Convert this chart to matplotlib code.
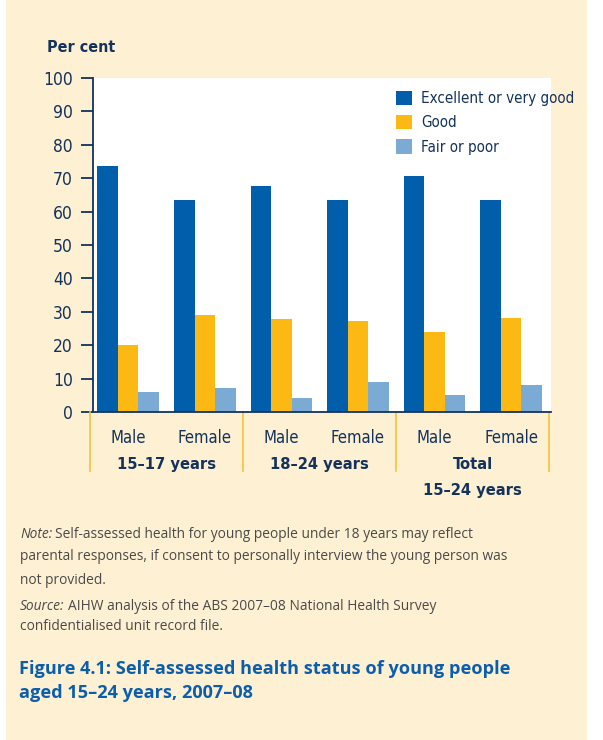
import numpy as np
import matplotlib.pyplot as plt
from matplotlib.patches import Rectangle

plt.close('all')

# data
sexes = ['Male', 'Female', 'Male', 'Female', 'Male', 'Female']
groups = ['15–17 years', '18–24 years', 'Total\n15–24 years']
series = ['Excellent or very good', 'Good', 'Fair or poor']
excellent = [73.7, 63.5, 67.7, 63.5, 70.7, 63.5]
good = [20.1, 29.1, 27.9, 27.3, 24.0, 28.2]
fair = [6.1, 7.3, 4.3, 9.1, 5.2, 8.2]
yticks = list(range(0, 101, 10))

colours = ['#005EAA', '#FDB913', '#7BAAD4']
navy = '#14325C'
cream = '#FEF0D2'
yellow_line = '#F7C23C'
title_blue = '#0B5EAB'

plt.rcParams['font.family'] = ['DejaVu Sans']
plt.rcParams['font.stretch'] = 'condensed'

W, H = 603, 740
fig = plt.figure(figsize=(W / 100, H / 100), dpi=100, facecolor='white')


def fx(x):
    return x / W


def fy(y):
    return 1 - y / H


# cream panel
fig.patches.append(Rectangle((fx(6), 0), fx(581), 1, transform=fig.transFigure,
                             facecolor=cream, edgecolor='none', zorder=-5))

ax = fig.add_axes([fx(93), fy(412), fx(458), 334 / H])
ax.set_facecolor('white')
ax.set_zorder(2)

x = np.arange(len(sexes))
w = 0.268
for i, (vals, c, name) in enumerate(zip([excellent, good, fair], colours, series)):
    ax.bar(x + (i - 1) * w, vals, width=w, color=c, label=name, zorder=2)

ax.set_xlim(-0.46, 5.52)
ax.set_ylim(0, 100)
ax.set_yticks(yticks)
ax.set_yticklabels([str(v) for v in yticks], fontsize=12.5, color=navy)
ax.tick_params(axis='y', direction='out', length=8.6, width=1.3, color=navy, pad=6)
ax.set_xticks(x)
ax.set_xticklabels(sexes, fontsize=12, color=navy)
ax.tick_params(axis='x', length=0, pad=12.5)
for s in ['top', 'right']:
    ax.spines[s].set_visible(False)
for s in ['left', 'bottom']:
    ax.spines[s].set_color(navy)
    ax.spines[s].set_linewidth(1.3)
ax.spines['bottom'].set_zorder(3)

# group separators below axis
trans = ax.get_xaxis_transform()
for sx in [-0.5, 1.5, 3.5, 5.5]:
    ax.plot([sx, sx], [0, -59 / 334], color=yellow_line, lw=1.2,
            transform=trans, clip_on=False)

for gi, g in enumerate(groups):
    ax.text(2 * gi + 0.5, -45 / 334, g, transform=trans, ha='center', va='top',
            fontsize=11.8, fontweight='bold', color=navy, linespacing=1.95)

leg = fig.legend(*ax.get_legend_handles_labels(), loc='upper left',
                 bbox_to_anchor=(fx(396), fy(91)), bbox_transform=fig.transFigure,
                 frameon=False, fontsize=10.9, handlelength=1.08, handleheight=1.08,
                 handletextpad=0.6, labelspacing=0.58, borderaxespad=0, borderpad=0)
leg.set_zorder(5)
for t in leg.get_texts():
    t.set_color(navy)

fig.text(fx(47), fy(48), 'Per cent', fontsize=11.5, fontweight='bold',
         color=navy, va='center', ha='left')

note_font = 'Open Sans'
note_col = '#4A4A4A'
fs = 9.9
lines = [
    (535, 'Note:', 'Self-assessed health for young people under 18 years may reflect'),
    (557, None, 'parental responses, if consent to personally interview the young person was'),
    (580, None, 'not provided.'),
    (606, 'Source:', 'AIHW analysis of the ABS 2007–08 National Health Survey'),
    (627, None, 'confidentialised unit record file.'),
]
renderer = fig.canvas.get_renderer()
for y, lead, body in lines:
    xpos = fx(20)
    if lead:
        t = fig.text(xpos, fy(y), lead, fontsize=fs, color=note_col, va='center',
                     family=note_font, style='italic', stretch='normal')
        bb = t.get_window_extent(renderer)
        xpos = (bb.x1 + 3) / W
    fig.text(xpos, fy(y), body, fontsize=fs, color=note_col, va='center',
             family=note_font, stretch='normal')

for y, line in [(669, 'Figure 4.1: Self-assessed health status of young people'),
                (693, 'aged 15–24 years, 2007–08')]:
    fig.text(fx(19), fy(y), line, fontsize=13.1, fontweight='bold', color=title_blue,
             va='center', family=note_font, stretch='normal')

fig.savefig('out.png', dpi=100, facecolor=fig.get_facecolor())
